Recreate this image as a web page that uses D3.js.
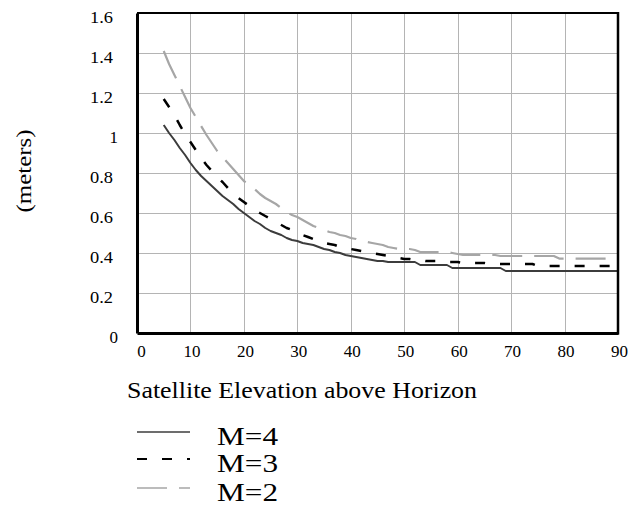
<!DOCTYPE html>
<html>
<head>
<meta charset="utf-8">
<script src="https://cdn.jsdelivr.net/npm/d3@7"></script>
<style>
  html, body { margin: 0; padding: 0; background: #fff; }
  svg { display: block; }
  svg text { font-family: "Liberation Serif", "Times New Roman", Tinos, Times, serif !important; }
</style>
</head>
<body>
<svg id="chart" width="628" height="519"></svg>
<script>
// Satellite elevation (degrees), one sample per degree
const elevation = [
  5, 6, 7, 8, 9, 10, 11, 12, 13, 14, 15, 16, 17, 18, 19, 20, 21, 22, 23, 24,
  25, 26, 27, 28, 29, 30, 31, 32, 33, 34, 35, 36, 37, 38, 39, 40, 41, 42, 43, 44,
  45, 46, 47, 48, 49, 50, 51, 52, 53, 54, 55, 56, 57, 58, 59, 60, 61, 62, 63, 64,
  65, 66, 67, 68, 69, 70, 71, 72, 73, 74, 75, 76, 77, 78, 79, 80, 81, 82, 83, 84,
  85, 86, 87, 88, 89, 90
];

// Error in meters for each M
const m4 = [
  1.04, 1.00, 0.965, 0.925, 0.89, 0.85, 0.815, 0.785, 0.76, 0.735, 0.71, 0.685, 0.665, 0.645, 0.62, 0.60, 0.58, 0.56, 0.545, 0.525,
  0.51, 0.50, 0.49, 0.475, 0.465, 0.46, 0.45, 0.445, 0.44, 0.43, 0.42, 0.415, 0.405, 0.40, 0.39, 0.385, 0.38, 0.375, 0.37, 0.365,
  0.36, 0.36, 0.355, 0.355, 0.355, 0.355, 0.355, 0.355, 0.34, 0.34, 0.34, 0.34, 0.34, 0.34, 0.325, 0.325, 0.325, 0.325, 0.325, 0.325,
  0.325, 0.325, 0.325, 0.325, 0.31, 0.31, 0.31, 0.31, 0.31, 0.31, 0.31, 0.31, 0.31, 0.31, 0.31, 0.31, 0.31, 0.31, 0.31, 0.31,
  0.31, 0.31, 0.31, 0.31, 0.31, 0.31
];
const m3 = [
  1.17, 1.13, 1.09, 1.04, 0.995, 0.955, 0.915, 0.875, 0.84, 0.81, 0.78, 0.755, 0.725, 0.70, 0.675, 0.655, 0.635, 0.615, 0.60, 0.585,
  0.57, 0.555, 0.54, 0.525, 0.515, 0.50, 0.49, 0.48, 0.47, 0.46, 0.45, 0.445, 0.44, 0.43, 0.425, 0.42, 0.415, 0.41, 0.405, 0.40,
  0.395, 0.39, 0.385, 0.38, 0.375, 0.37, 0.37, 0.365, 0.365, 0.36, 0.36, 0.36, 0.355, 0.355, 0.355, 0.355, 0.35, 0.35, 0.35, 0.35,
  0.35, 0.345, 0.345, 0.345, 0.345, 0.345, 0.345, 0.345, 0.345, 0.345, 0.335, 0.335, 0.335, 0.335, 0.335, 0.335, 0.335, 0.335, 0.335, 0.335,
  0.335, 0.335, 0.335, 0.335, 0.335, 0.335
];
const m2 = [
  1.41, 1.345, 1.29, 1.235, 1.18, 1.125, 1.08, 1.035, 0.99, 0.95, 0.91, 0.88, 0.85, 0.82, 0.79, 0.76, 0.74, 0.72, 0.695, 0.675,
  0.66, 0.645, 0.625, 0.605, 0.59, 0.58, 0.565, 0.55, 0.535, 0.525, 0.515, 0.505, 0.50, 0.49, 0.485, 0.475, 0.47, 0.46, 0.455, 0.45,
  0.445, 0.44, 0.43, 0.425, 0.42, 0.42, 0.42, 0.415, 0.405, 0.405, 0.405, 0.405, 0.405, 0.405, 0.40, 0.395, 0.39, 0.39, 0.39, 0.39,
  0.39, 0.39, 0.39, 0.385, 0.385, 0.385, 0.385, 0.385, 0.385, 0.385, 0.385, 0.385, 0.385, 0.385, 0.372, 0.372, 0.372, 0.372, 0.372, 0.372,
  0.372, 0.372, 0.372, 0.372, 0.372, 0.372
];

const xTicks = [0, 10, 20, 30, 40, 50, 60, 70, 80, 90];
const yTicks = [0, 0.2, 0.4, 0.6, 0.8, 1, 1.2, 1.4, 1.6];
const seriesNames = ["M=4", "M=3", "M=2"];

const svg = d3.select("#chart");
const plot = { left: 137, right: 618, top: 13, bottom: 333 };

const x = d3.scaleLinear().domain([0, 90]).range([plot.left, plot.right]);
const y = d3.scaleLinear().domain([0, 1.6]).range([plot.bottom, plot.top]);

// Grid
const grid = svg.append("g").attr("stroke", "#b4b4b4").attr("stroke-width", 1);
grid.selectAll("line.v").data(xTicks.slice(1, -1)).join("line")
  .attr("x1", d => Math.round(x(d)) + 0.5).attr("x2", d => Math.round(x(d)) + 0.5)
  .attr("y1", plot.top).attr("y2", plot.bottom);
grid.selectAll("line.h").data(yTicks.slice(1, -1)).join("line")
  .attr("x1", plot.left).attr("x2", plot.right)
  .attr("y1", d => Math.round(y(d)) + 0.5).attr("y2", d => Math.round(y(d)) + 0.5);

// Series
const series = [
  { name: seriesNames[0], values: m4, color: "#3c3c3c", width: 2, dash: null },
  { name: seriesNames[1], values: m3, color: "#000000", width: 2.5, dash: "10,15" },
  { name: seriesNames[2], values: m2, color: "#a6a6a6", width: 2.2, dash: "30,12" }
];

svg.append("clipPath").attr("id", "plotClip").append("rect")
  .attr("x", plot.left).attr("y", plot.top)
  .attr("width", plot.right - plot.left).attr("height", plot.bottom - plot.top);

const line = d3.line().x(d => x(d[0])).y(d => y(d[1])).curve(d3.curveLinear);

const lines = svg.append("g").attr("clip-path", "url(#plotClip)");
series.slice().reverse().forEach(s => {
  lines.append("path")
    .datum(elevation.map((e, i) => [e, s.values[i]]))
    .attr("d", line)
    .attr("fill", "none")
    .attr("stroke", s.color)
    .attr("stroke-width", s.width)
    .attr("stroke-dasharray", s.dash)
    .attr("stroke-linejoin", "round");
});

// Frame
svg.append("line").attr("x1", plot.left).attr("x2", plot.right).attr("y1", plot.top).attr("y2", plot.top)
  .attr("stroke", "#000").attr("stroke-width", 2);
svg.append("line").attr("x1", plot.right).attr("x2", plot.right).attr("y1", plot.top - 1).attr("y2", plot.bottom + 1.5)
  .attr("stroke", "#000").attr("stroke-width", 2.5);

// Axes
const xAxis = d3.axisBottom(x).tickValues(xTicks).tickSize(0).tickPadding(0).tickFormat(d3.format("d"));
const gx = svg.append("g").attr("transform", `translate(0,${plot.bottom})`).call(xAxis);
gx.attr("font-family", null);
gx.select(".domain").attr("stroke", "#000").attr("stroke-width", 3);
gx.selectAll("text").attr("font-size", 17)
  .attr("fill", "#000").attr("dy", 0).attr("y", 24)
  .attr("dx", d => d === 0 ? 4 : 1);

const yAxis = d3.axisLeft(y).tickValues(yTicks).tickSize(0).tickPadding(0).tickFormat(d => d3.format("")(d));
const gy = svg.append("g").attr("transform", `translate(${plot.left},0)`).call(yAxis);
gy.attr("font-family", null);
gy.select(".domain").attr("stroke", "#000").attr("stroke-width", 3);
gy.selectAll("text").attr("font-size", 17)
  .attr("fill", "#000").attr("dy", "0.32em")
  .attr("x", d => Number.isInteger(d) ? -19 : -24)
  .attr("y", 4)
  .attr("textLength", d => Number.isInteger(d) ? null : 23)
  .attr("lengthAdjust", "spacingAndGlyphs");

// Axis titles
svg.append("text")
  .attr("transform", "translate(31,171) rotate(-90)")
  .attr("text-anchor", "middle")
  .attr("font-size", 22)
  .attr("textLength", 83).attr("lengthAdjust", "spacingAndGlyphs")
  .text("(meters)");

svg.append("text")
  .attr("x", 127).attr("y", 398)
  .attr("font-size", 24)
  .attr("textLength", 350).attr("lengthAdjust", "spacingAndGlyphs")
  .text("Satellite Elevation above Horizon");

// Legend
const legendY = [432, 459, 488];
const legend = svg.append("g");
series.forEach((s, i) => {
  legend.append("line")
    .attr("x1", 137).attr("x2", 190)
    .attr("y1", legendY[i]).attr("y2", legendY[i])
    .attr("stroke", s.color).attr("stroke-width", s.width === 2.5 ? 2 : 1.5)
    .attr("stroke-dasharray", s.dash);
  legend.append("text")
    .attr("x", 217).attr("y", legendY[i] + 13)
    .attr("font-size", 25)
    .attr("textLength", 61).attr("lengthAdjust", "spacingAndGlyphs")
    .text(s.name);
});
</script>
</body>
</html>
